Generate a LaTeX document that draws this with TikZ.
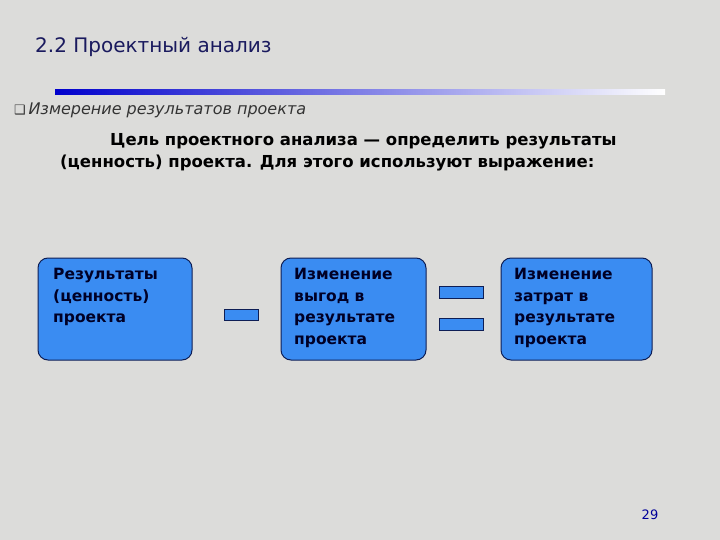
\documentclass[tikz,border=0pt]{standalone}
\usepackage{fontspec}
\setmainfont{DejaVu Sans}
\usetikzlibrary{calc}
\definecolor{bg}{HTML}{DCDCDA}
\definecolor{navy}{HTML}{1A1A5E}
\definecolor{boxblue}{HTML}{3A8CF2}
\definecolor{boxline}{HTML}{0E1E55}
\tikzset{
  blk/.style={draw=boxline, line width=1pt, fill=boxblue, rounded corners=10pt},
  btxt/.style={anchor=north west, align=left, font=\bfseries\fontsize{15.5}{21.5}\selectfont, text=black!85!blue, inner sep=0pt},
  sign/.style={draw=boxline, line width=0.8pt, fill=boxblue}
}
\begin{document}
\begin{tikzpicture}[x=1pt,y=-1pt]
\fill[bg] (0,0) rectangle (720,540);
\useasboundingbox (0,0) rectangle (720,540);
\node[anchor=west, text=navy, font=\fontsize{20}{24}\selectfont, inner sep=0pt] (title) at (35,47) {2.2 Проектный анализ};
\shade[left color=blue!80!black, right color=white] (55,90) rectangle (665,95);
\node[anchor=west, font=\fontsize{16}{18}\selectfont, text=black!80, inner sep=0pt] (sub) at (14,110) {{\fontsize{13}{14}\selectfont ❑}\,\textit{Измерение результатов проекта}};
\node[anchor=west, font=\bfseries\fontsize{16.5}{19}\selectfont, inner sep=0pt] (p1) at (110,141) {Цель проектного анализа — определить результаты};
\node[anchor=west, font=\bfseries\fontsize{16.5}{19}\selectfont, inner sep=0pt] (p2) at (60,163) {(ценность) проекта. Для этого используют выражение:};
\draw[blk] (38,258) rectangle (192,360);
\draw[blk] (281,258) rectangle (426,360);
\draw[blk] (501,258) rectangle (652,360);
\node[btxt] (t1) at (53,268) {Результаты\\(ценность)\\проекта};
\node[btxt] (t2) at (294,268) {Изменение\\выгод в\\результате\\проекта};
\node[btxt] (t3) at (514,268) {Изменение\\затрат в\\результате\\проекта};
\draw[sign] (224,309) rectangle (258,320);
\draw[sign] (439,286) rectangle (483,298);
\draw[sign] (439,318) rectangle (483,330);
\node[text=blue!60!black, font=\fontsize{13}{15}\selectfont, inner sep=0pt] (pg) at (650,515) {29};
\end{tikzpicture}
\end{document}
